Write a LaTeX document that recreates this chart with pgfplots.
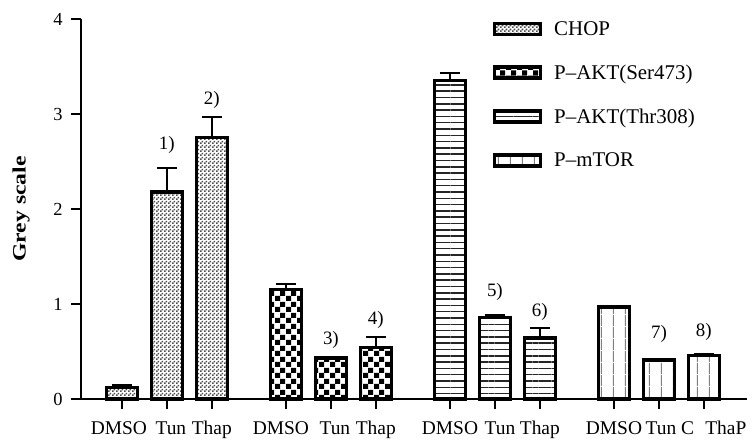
\documentclass[border=0pt]{standalone}
\usepackage{pgfplots}
\pgfplotsset{compat=1.18}
\usepackage{fontspec}
\setmainfont{Liberation Serif}
\usetikzlibrary{patterns,patterns.meta}
\tikzdeclarepattern{
  name=bigchecker,
  type=uncolored,
  bounding box={(0,0) and (11bp,11bp)},
  tile size={(11bp,11bp)},
  code={
    \fill (0,0) rectangle (5.5bp,5.5bp);
    \fill (5.5bp,5.5bp) rectangle (11bp,11bp);
  }
}
\tikzdeclarepattern{
  name=finechecker,
  type=uncolored,
  bounding box={(0,0) and (4bp,4bp)},
  tile size={(4bp,4bp)},
  code={
    \fill (0,0) rectangle (2bp,2bp);
    \fill (2bp,2bp) rectangle (4bp,4bp);
  }
}
\tikzdeclarepattern{
  name=vlines,
  type=uncolored,
  bounding box={(0,0) and (11.5bp,11.5bp)},
  tile size={(11.5bp,11.5bp)},
  code={
    \fill (2.9bp,0) rectangle (4.1bp,11.5bp);
  }
}
\pgfplotsset{
  myerr/.style={
    error bars/y dir=plus, error bars/y explicit,
    error bars/error bar style={line width=2.4bp, black},
    error bars/error mark options={rotate=90, line width=2.4bp, mark size=10bp, black},
  },
}
\tikzset{lbl/.style={font=\fontsize{19}{23}\selectfont}}
\newcommand{\sh}[2]{\makebox[0pt]{\hspace{#1}#2}}
\begin{document}
\begin{tikzpicture}
\useasboundingbox (0,0) rectangle (756bp,444bp);
\begin{axis}[
  at={(81bp,45bp)}, anchor=south west,
  scale only axis, width=666bp, height=380bp,
  xmin=-0.911, xmax=13.91, ymin=0, ymax=4,
  axis x line*=bottom, axis y line*=left,
  axis line style={line width=2.6bp, black},
  ybar, bar shift=0pt, bar width=31bp,
  legend image code/.code={\draw[#1,line width=3.5bp] (0bp,-5.5bp) rectangle (46bp,5.5bp);},
  clip=false,
  ytick={0,1,2,3,4},
  xtick={0,1,2,3.65,4.65,5.65,7.3,8.3,9.3,10.95,11.95,12.95},
  xticklabels={\sh{-6bp}{DMSO},\sh{8bp}{Tun},Thap,\sh{-10bp}{DMSO},\sh{8bp}{Tun},Thap,DMSO,\sh{10bp}{Tun},Thap,DMSO,\sh{22bp}{Tun C},\sh{44bp}{ThaP}},
  tick align=outside, major tick length=10bp,
  tick style={line width=2.6bp, black},
  /pgf/number format/assume math mode=true,
  yticklabel style={font=\fontsize{18.5}{22}\selectfont, xshift=-5bp},
  xticklabel style={font=\fontsize{19.5}{24}\selectfont, text height=13bp, text depth=4bp, yshift=-9bp},
  ylabel={\scalebox{1.25}[1]{\textbf{Grey scale}}},
  ylabel style={at={(axis description cs:-0.09,0.5)}, anchor=center, font=\fontsize{19}{23}\selectfont},
  legend style={at={(axis cs:8.18,4.02)}, anchor=north west, draw=none, fill=none,
    font=\fontsize{21}{25}\selectfont, row sep=24bp, column sep=10bp, cells={anchor=west}},
]
\addplot[myerr, draw=black, line width=3.5bp, pattern=finechecker, pattern color=black!70]
  coordinates {(0,0.12) +- (0,0.03) (1,2.18) +- (0,0.25) (2,2.75) +- (0,0.22)};
\addplot[myerr, draw=black, line width=3.5bp, pattern=bigchecker, pattern color=black]
  coordinates {(3.65,1.15) +- (0,0.06) (4.65,0.43) +- (0,0.01) (5.65,0.54) +- (0,0.11)};
\addplot[myerr, draw=black, line width=3.5bp, pattern={Lines[angle=0,distance=6.3bp,line width=1.5bp]}, pattern color=black!85]
  coordinates {(7.3,3.35) +- (0,0.08) (8.3,0.86) +- (0,0.02) (9.3,0.64) +- (0,0.11)};
\addplot[myerr, draw=black, line width=3.5bp, pattern=vlines, pattern color=black!50]
  coordinates {(10.95,0.97) +- (0,0.01) (11.95,0.41) +- (0,0.01) (12.95,0.46) +- (0,0.01)};
\legend{CHOP, P–AKT(Ser473), P–AKT(Thr308), P–mTOR}
\node[lbl] at (axis cs:1,2.67) {1)};
\node[lbl] at (axis cs:2,3.15) {2)};
\node[lbl] at (axis cs:4.65,0.62) {3)};
\node[lbl] at (axis cs:5.65,0.83) {4)};
\node[lbl] at (axis cs:8.3,1.13) {5)};
\node[lbl] at (axis cs:9.3,0.92) {6)};
\node[lbl] at (axis cs:11.95,0.69) {7)};
\node[lbl] at (axis cs:12.95,0.71) {8)};
\end{axis}
\end{tikzpicture}
\end{document}
